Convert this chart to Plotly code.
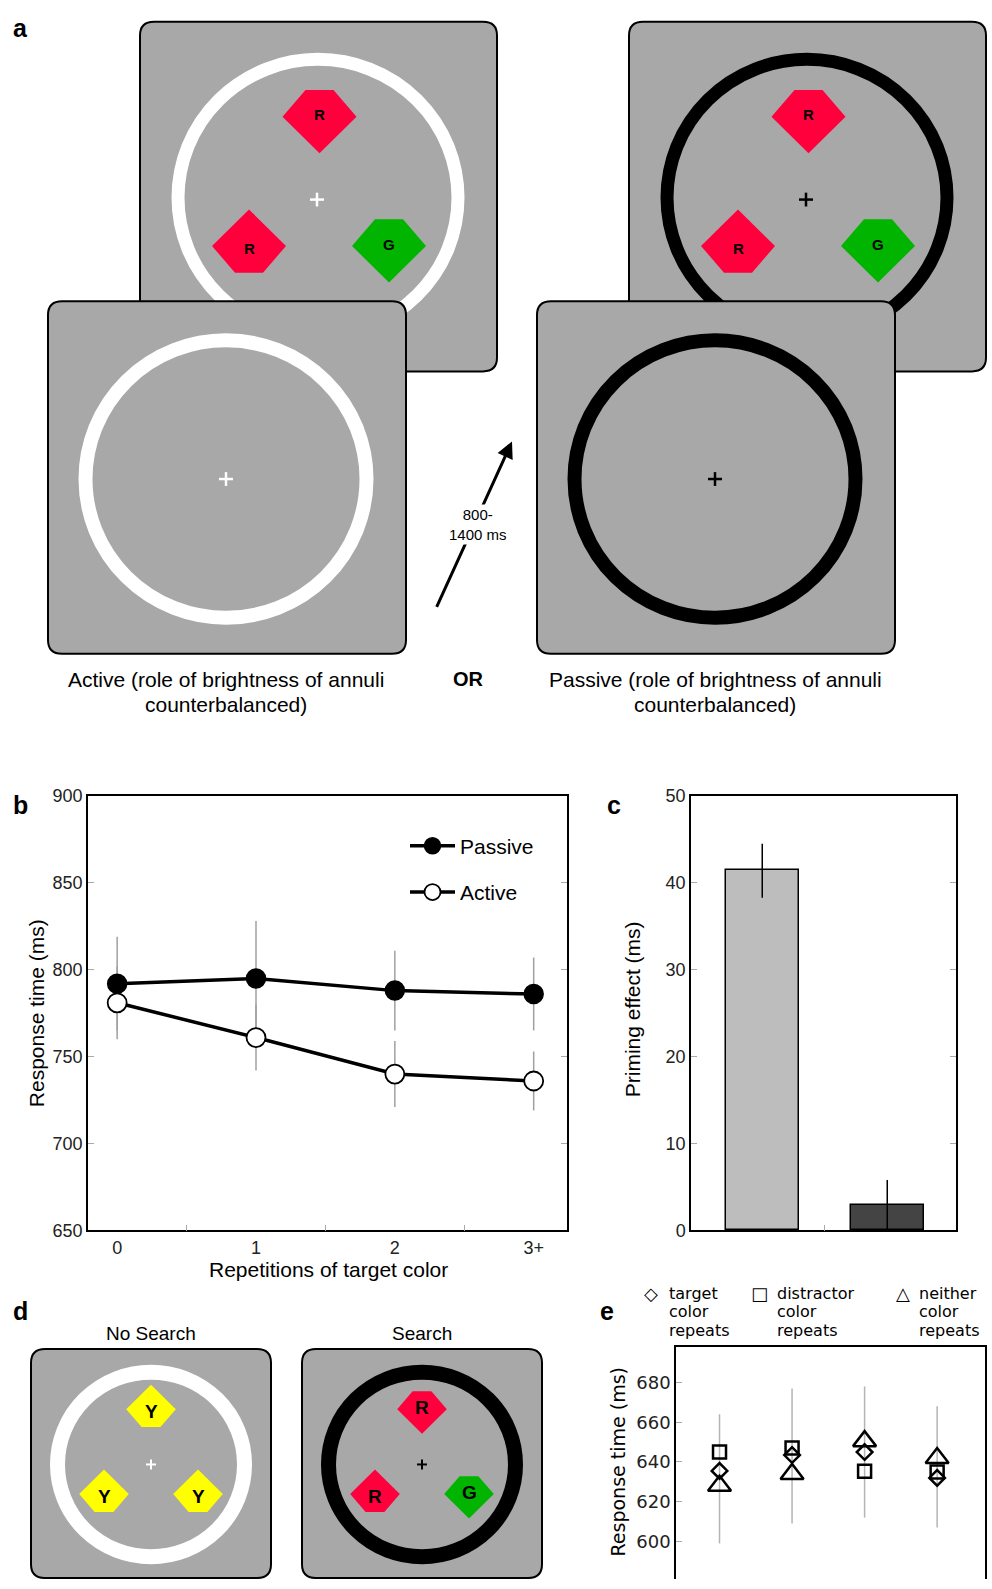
import plotly.graph_objects as go

W, H = 992, 1589

# ---------------- data ----------------
# panel b
rep_labels = ['0', '1', '2', '3+']
rep_pos = [0, 1, 2, 3]
passive_rt = [792, 795, 788, 786]
passive_err = [27, 33, 23, 21]
active_rt = [781, 761, 740, 736]
active_err = [21, 19, 19, 17]
b_ticks = [650, 700, 750, 800, 850, 900]

# panel c
prime_pos = [0, 1]
prime_effect = [41.5, 2.9]
prime_err_plus = [3.0, 2.9]
prime_err_minus = [3.2, 3.9]
prime_colors = ['#bdbdbd', '#444444']
prime_ticks = [0, 10, 20, 30, 40, 50]

# panel e
e_pos = [0, 1, 2, 3]
target_rt = [635.5, 643.5, 645.0, 632.0]
distractor_rt = [645.0, 647.0, 635.3, 635.0]
neither_rt = [628.0, 634.0, 650.5, 642.0]
e_err_low = [599, 609, 612, 607]
e_err_high = [664, 677, 678, 668]
e_ticks = [600, 620, 640, 660, 680]

FONT = 'Liberation Sans'
FONT_E = 'DejaVu Sans'
GRAY = '#a8a8a8'
RED = '#ff003c'
GREEN = '#00b400'
YELLOW = '#ffff00'


def dom_x(x0, x1):
    return [x0 / W, x1 / W]


def dom_y(y0, y1):
    return [max(0, 1 - y1 / H), 1 - y0 / H]


def px(x):
    return x / W


def py(y):
    return 1 - y / H


fig = go.Figure()
shapes = []
annos = []


def rrect(x0, y0, x1, y1, r):
    return (f"M{x0+r},{y0} L{x1-r},{y0} Q{x1},{y0} {x1},{y0+r} L{x1},{y1-r} "
            f"Q{x1},{y1} {x1-r},{y1} L{x0+r},{y1} Q{x0},{y1} {x0},{y1-r} "
            f"L{x0},{y0+r} Q{x0},{y0} {x0+r},{y0} Z")


def card(x0, y0, x1, y1):
    shapes.append(dict(type='path', path=rrect(x0, y0, x1, y1, 14), xref='x', yref='y',
                       fillcolor=GRAY, line=dict(color='black', width=2)))


def ring(cx, cy, r_out, thick, color):
    r = r_out - thick / 2
    shapes.append(dict(type='circle', xref='x', yref='y', x0=cx - r, x1=cx + r,
                       y0=cy - r, y1=cy + r, line=dict(color=color, width=thick)))


def cross(cx, cy, arm, color, w=2.5):
    shapes.append(dict(type='line', xref='x', yref='y', x0=cx - arm, x1=cx + arm, y0=cy, y1=cy,
                       line=dict(color=color, width=w)))
    shapes.append(dict(type='line', xref='x', yref='y', x0=cx, x1=cx, y0=cy - arm, y1=cy + arm,
                       line=dict(color=color, width=w)))


def item(cx, cy, s, cut, color, letter, fsize):
    a, b, c, w = 37 * s, 37 * s, 27 * s, 14 * s
    if cut == 'top':
        pts = [(-a, 0), (-w, -c), (w, -c), (a, 0), (0, b)]
        ty = cy - 2 * s
    else:
        pts = [(-a, 0), (0, -b), (a, 0), (w, c), (-w, c)]
        ty = cy + 3 * s
    path = 'M' + ' L'.join(f'{cx+x:.1f},{cy+y:.1f}' for x, y in pts) + ' Z'
    shapes.append(dict(type='path', path=path, xref='x', yref='y', fillcolor=color,
                       line=dict(width=0)))
    annos.append(dict(x=cx, y=ty, xref='x', yref='y', text=f'<b>{letter}</b>', showarrow=False,
                      font=dict(family=FONT, size=fsize, color='black')))


def text(x, y, s, size, fam=FONT, color='black', xanchor='center', angle=0):
    annos.append(dict(x=px(x), y=py(y), xref='paper', yref='paper', text=s, showarrow=False,
                      font=dict(family=fam, size=size, color=color), xanchor=xanchor,
                      yanchor='middle', textangle=angle))


# ---------------- panel a ----------------
for dx, rcol in [(0, 'white'), (489, 'black')]:
    card(140 + dx, 12, 497 + dx, 366)
    ring(318 + dx, 190, 146.5, 13, rcol)
    item(319.5 + dx, 108, 1.0, 'top', RED, 'R', 15)
    item(249 + dx, 239, 1.0, 'bottom', RED, 'R', 15)
    item(389 + dx, 239, 1.0, 'top', GREEN, 'G', 15)
    cross(317 + dx, 192, 7, rcol)
    card(48 + dx, 295, 406 + dx, 652)
    ring(226 + dx, 475, 147.5, 14, rcol)
    cross(226 + dx, 475, 7, rcol)

annos.append(dict(x=512, y=437, ax=436, ay=606, xref='x', yref='y', axref='x', ayref='y',
                  text='', showarrow=True, arrowhead=2, arrowsize=1.1, arrowwidth=3,
                  arrowcolor='black'))
annos.append(dict(x=478, y=521, xref='x', yref='y', text='800-<br>1400 ms', showarrow=False,
                  bgcolor='white', font=dict(family=FONT, size=15, color='black')))

text(20, 18, '<b>a</b>', 25)
text(226, 678, 'Active (role of brightness of annuli', 21)
text(226, 703, 'counterbalanced)', 21)
text(468, 678, '<b>OR</b>', 20)
text(715, 678, 'Passive (role of brightness of annuli', 21)
text(715, 703, 'counterbalanced)', 21)

# ---------------- panel d ----------------
for cx, rcol, items in [
    (151, 'white', [('bottom', YELLOW, 'Y'), ('bottom', YELLOW, 'Y'), ('bottom', YELLOW, 'Y')]),
    (422, 'black', [('top', RED, 'R'), ('bottom', RED, 'R'), ('top', GREEN, 'G')]),
]:
    cy = 1473
    card(cx - 120, 1356, cx + 120, 1588)
    ring(cx, cy, 101, 15, rcol)
    offs = [(0, -56), (-47, 30), (47, 30)]
    for (cut, col, let), (ox, oy) in zip(items, offs):
        item(cx + ox, cy + oy, 0.67, cut, col, let, 19)
    cross(cx, cy, 5, rcol, 2)

text(20, 1318, '<b>d</b>', 25)
text(151, 1340, 'No Search', 19)
text(422, 1340, 'Search', 19)

# ---------------- panel b ----------------
B = (88, 796, 567, 1236)
fig.add_trace(go.Scatter(x=rep_pos, y=passive_rt, mode='markers', marker=dict(opacity=0),
                         error_y=dict(type='data', array=passive_err, color='#a0a0a0',
                                      thickness=1.5, width=0),
                         xaxis='x2', yaxis='y2', showlegend=False, hoverinfo='skip'))
fig.add_trace(go.Scatter(x=rep_pos, y=active_rt, mode='markers', marker=dict(opacity=0),
                         error_y=dict(type='data', array=active_err, color='#a0a0a0',
                                      thickness=1.5, width=0),
                         xaxis='x2', yaxis='y2', showlegend=False, hoverinfo='skip'))
fig.add_trace(go.Scatter(x=rep_pos, y=passive_rt, mode='lines+markers', name='Passive',
                         legendgroup='p', line=dict(color='black', width=3.5),
                         marker=dict(size=19, color='black', line=dict(color='black', width=1.5)),
                         xaxis='x2', yaxis='y2'))
fig.add_trace(go.Scatter(x=rep_pos, y=active_rt, mode='lines+markers', name='Active',
                         legendgroup='a', line=dict(color='black', width=3.5),
                         marker=dict(size=19, color='white', line=dict(color='black', width=1.8)),
                         xaxis='x2', yaxis='y2'))

text(20, 805, '<b>b</b>', 25)
text(36, 1016, 'Response time (ms)', 21, angle=-90)
text(328, 1276, 'Repetitions of target color', 21)

# ---------------- panel c ----------------
C = (691, 796, 956, 1236)
fig.add_trace(go.Bar(x=prime_pos, y=prime_effect, width=0.58,
                     marker=dict(color=prime_colors, line=dict(color='black', width=1.5)),
                     xaxis='x3', yaxis='y3', showlegend=False, hoverinfo='skip'))
fig.add_trace(go.Scatter(x=prime_pos, y=prime_effect, mode='markers', marker=dict(opacity=0),
                         error_y=dict(type='data', symmetric=False, array=prime_err_plus,
                                      arrayminus=prime_err_minus, color='black',
                                      thickness=1.5, width=0),
                         cliponaxis=False, xaxis='x3', yaxis='y3', showlegend=False,
                         hoverinfo='skip'))
text(614, 805, '<b>c</b>', 25)
text(632, 1012, 'Priming effect (ms)', 21, angle=-90)

# ---------------- panel e ----------------
E = (676, 1354, 985, 1600)
e_span = [h - l for h, l in zip(e_err_high, e_err_low)]
fig.add_trace(go.Scatter(x=e_pos, y=e_err_low, mode='markers', marker=dict(opacity=0),
                         error_y=dict(type='data', symmetric=False, array=e_span,
                                      arrayminus=[0] * 4, color='#b4b4b4', thickness=1.5,
                                      width=0),
                         xaxis='x4', yaxis='y4', showlegend=False, hoverinfo='skip'))
for vals, sym, sz in [(neither_rt, 'triangle-up-open', 20),
                      (target_rt, 'diamond-open', 12),
                      (distractor_rt, 'square-open', 13)]:
    fig.add_trace(go.Scatter(x=e_pos, y=vals, mode='markers',
                             marker=dict(symbol=sym, size=sz, color='black',
                                         line=dict(color='black', width=2.5)),
                             xaxis='x4', yaxis='y4', showlegend=False, hoverinfo='skip'))

text(607, 1318, '<b>e</b>', 25)
text(618, 1470, 'Response time (ms)', 19, fam=FONT_E, angle=-90)
for sx, sym, tx, words in [(651, '◇', 667, ['target', 'color', 'repeats']),
                           (759, '□', 775, ['distractor', 'color', 'repeats']),
                           (903, '△', 917, ['neither', 'color', 'repeats'])]:
    text(sx, 1300, f'<b>{sym}</b>', 18, fam=FONT_E)
    for i, wd in enumerate(words):
        text(tx, 1300 + 18.5 * i, wd, 16, fam=FONT_E, xanchor='left')

axis_common = dict(showgrid=False, zeroline=False, showline=True, linecolor='black',
                   linewidth=1.5, fixedrange=True)

fig.update_layout(
    width=W, height=H, margin=dict(l=0, r=0, t=0, b=0),
    paper_bgcolor='white', plot_bgcolor='rgba(0,0,0,0)',
    xaxis=dict(domain=[0, 1], range=[0, W], visible=False, fixedrange=True),
    yaxis=dict(domain=[0, 1], range=[H, 0], visible=False, fixedrange=True),
    xaxis2=dict(domain=dom_x(B[0], B[2]), anchor='y2', range=[-0.21, 3.24],
                tickmode='array', tickvals=rep_pos, ticktext=rep_labels, ticks='',
                mirror=True, tickfont=dict(family=FONT, size=18, color='#222'),
                minor=dict(tickmode='array', tickvals=[0.5, 1.5, 2.5], ticks='inside',
                           ticklen=6, tickcolor='#aaaaaa', tickwidth=1),
                **axis_common),
    yaxis2=dict(domain=dom_y(B[1], B[3]), anchor='x2', range=[650, 900],
                tickmode='array', tickvals=b_ticks, ticks='inside', ticklen=6,
                tickcolor='#aaaaaa', mirror='ticks',
                tickfont=dict(family=FONT, size=18, color='#222'), **axis_common),
    xaxis3=dict(domain=dom_x(C[0], C[2]), anchor='y3', range=[-0.57, 1.55],
                showticklabels=False, ticks='', mirror=True,
                minor=dict(tickmode='array', tickvals=[0.5], ticks='inside', ticklen=6,
                           tickcolor='#aaaaaa', tickwidth=1),
                **axis_common),
    yaxis3=dict(domain=dom_y(C[1], C[3]), anchor='x3', range=[0, 50],
                tickmode='array', tickvals=prime_ticks, ticks='inside', ticklen=6,
                tickcolor='#aaaaaa', mirror='ticks',
                tickfont=dict(family=FONT, size=18, color='#222'), **axis_common),
    xaxis4=dict(domain=dom_x(E[0], E[2]), anchor='y4', side='top', range=[-0.6, 3.66],
                showticklabels=False, ticks='', **axis_common),
    yaxis4=dict(domain=dom_y(E[1], E[3]), anchor='x4', range=[581.1, 697.9],
                tickmode='array', tickvals=e_ticks, ticks='inside', ticklen=6,
                tickcolor='#aaaaaa', mirror=True,
                tickfont=dict(family=FONT_E, size=18, color='#222'), **axis_common),
    legend=dict(x=px(405), y=py(826), xanchor='left', yanchor='top',
                bgcolor='rgba(0,0,0,0)', font=dict(family=FONT, size=21, color='black'),
                itemwidth=45, tracegroupgap=16),
    shapes=shapes,
    annotations=annos,
    bargap=0,
)

fig.write_html('out.html',
               config={'displayModeBar': False},
               post_script="document.body.style.margin='0px';"
                           "document.body.style.overflow='hidden';")
